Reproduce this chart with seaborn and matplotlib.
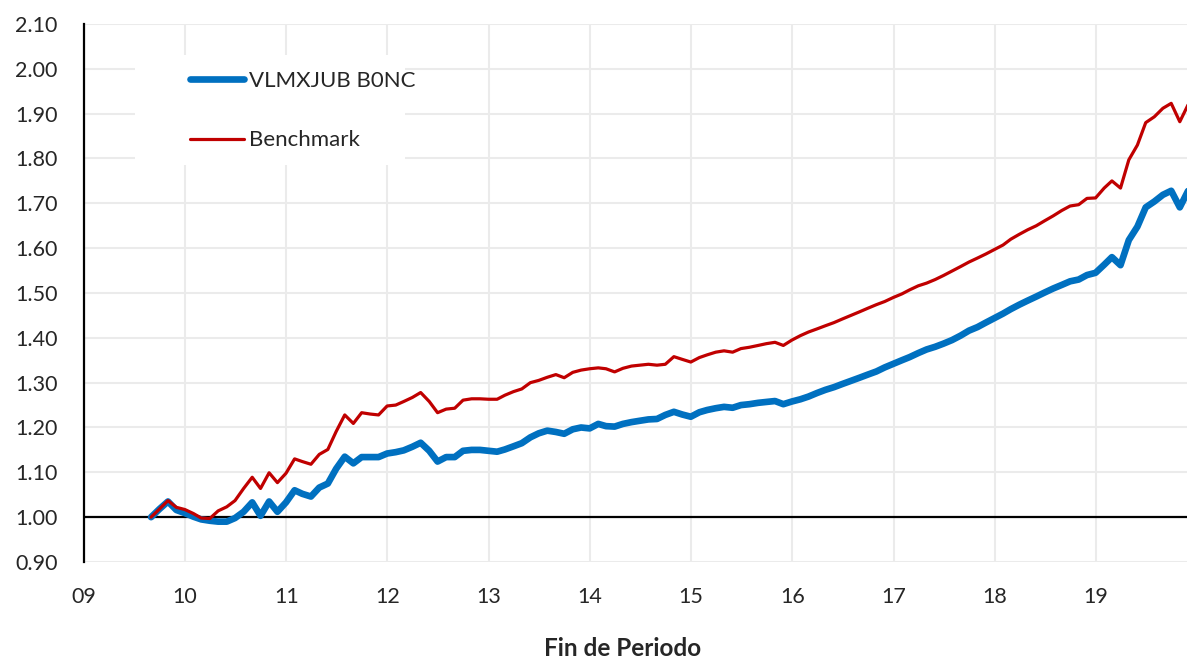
import pandas as pd
import seaborn as sns
import matplotlib.pyplot as plt
import matplotlib.dates as mdates
from matplotlib.patches import Rectangle

# valores mensuales (fin de mes)
fondo = [
    1.000, 1.018, 1.035, 1.016, 1.009, 1.001, 0.995, 0.992, 0.990, 0.990, 0.998, 1.012,
    1.033, 1.003, 1.035, 1.012, 1.033, 1.060, 1.052, 1.046, 1.066, 1.075, 1.108, 1.135,
    1.120, 1.134, 1.134, 1.134, 1.142, 1.145, 1.149, 1.157, 1.166, 1.148, 1.124, 1.134,
    1.134, 1.148, 1.150, 1.150, 1.148, 1.146, 1.151, 1.158, 1.165, 1.178, 1.187, 1.193,
    1.190, 1.186, 1.196, 1.200, 1.198, 1.208, 1.203, 1.202, 1.208, 1.212, 1.215, 1.218,
    1.219, 1.228, 1.235, 1.229, 1.224, 1.234, 1.239, 1.243, 1.246, 1.244, 1.250, 1.252,
    1.255, 1.257, 1.259, 1.252, 1.258, 1.263, 1.269, 1.277, 1.284, 1.290, 1.297, 1.304,
    1.311, 1.318, 1.325, 1.334, 1.342, 1.350, 1.357, 1.366, 1.374, 1.380, 1.387, 1.395,
    1.405, 1.416, 1.424, 1.434, 1.444, 1.454, 1.464, 1.474, 1.483, 1.492, 1.501, 1.510,
    1.518, 1.526, 1.530, 1.540, 1.545, 1.563, 1.580, 1.562, 1.618, 1.648, 1.691, 1.704,
    1.719, 1.728, 1.691, 1.728,
]
benchmark = [
    1.000, 1.018, 1.037, 1.022, 1.017, 1.008, 0.998, 0.997, 1.014, 1.023, 1.037, 1.064,
    1.089, 1.064, 1.099, 1.077, 1.098, 1.130, 1.124, 1.118, 1.140, 1.151, 1.191, 1.228,
    1.209, 1.233, 1.230, 1.228, 1.248, 1.250, 1.258, 1.267, 1.278, 1.258, 1.233, 1.241,
    1.243, 1.261, 1.264, 1.264, 1.263, 1.263, 1.272, 1.280, 1.286, 1.300, 1.305, 1.312,
    1.318, 1.311, 1.323, 1.328, 1.331, 1.333, 1.331, 1.324, 1.332, 1.337, 1.339, 1.341,
    1.339, 1.341, 1.358, 1.352, 1.346, 1.356, 1.362, 1.368, 1.371, 1.368, 1.376, 1.379,
    1.383, 1.387, 1.390, 1.383, 1.395, 1.405, 1.413, 1.420, 1.427, 1.434, 1.442, 1.450,
    1.458, 1.466, 1.474, 1.481, 1.490, 1.498, 1.507, 1.516, 1.522, 1.530, 1.539, 1.549,
    1.559, 1.569, 1.578, 1.587, 1.597, 1.607, 1.620, 1.631, 1.641, 1.650, 1.661, 1.672,
    1.684, 1.694, 1.697, 1.711, 1.712, 1.734, 1.750, 1.734, 1.797, 1.830, 1.880, 1.893,
    1.912, 1.923, 1.882, 1.920,
]
fechas = pd.date_range("2009-08-31", periods=len(fondo), freq="ME")
y_ticks = [0.90, 1.00, 1.10, 1.20, 1.30, 1.40, 1.50, 1.60, 1.70, 1.80, 1.90, 2.00, 2.10]

sns.set_style("white")
plt.rcParams["font.family"] = ["Lato", "DejaVu Sans"]

fig = plt.figure(figsize=(11.87, 6.59), dpi=100)
ax = fig.add_axes([0.0708, 0.1472, 0.9292, 0.8164])

grid = "#ebebeb"
ax.set_axisbelow(True)
ax.grid(True, color=grid, linewidth=1.5)
ax.axhline(1.0, color="black", linewidth=1.6, zorder=1.5)

sns.lineplot(x=fechas, y=fondo, ax=ax, color="#0070c0", linewidth=4.8,
             label="VLMXJUB B0NC", zorder=3)
sns.lineplot(x=fechas, y=benchmark, ax=ax, color="#c00000", linewidth=2.3,
             label="Benchmark", zorder=4)

ax.set_xlim(pd.Timestamp("2009-01-01"), pd.Timestamp("2019-11-26"))
ax.set_ylim(0.90, 2.10)
ax.set_yticks(y_ticks)
ax.set_yticklabels([f"{v:.2f}" for v in y_ticks])
ax.xaxis.set_major_locator(mdates.YearLocator())
ax.xaxis.set_major_formatter(mdates.DateFormatter("%y"))
ax.tick_params(axis="y", length=0, pad=19, labelsize=15.5)
ax.tick_params(axis="x", length=0, pad=18, labelsize=15.5)

for s in ["top", "right", "bottom"]:
    ax.spines[s].set_visible(False)
ax.spines["left"].set_color("black")
ax.spines["left"].set_linewidth(1.6)

ax.set_xlabel("Fin de Periodo", fontsize=17.5, fontweight="bold")
ax.xaxis.set_label_coords(0.4887, -0.139)
ax.set_ylabel("")

# fondo blanco del cuadro de leyenda (tapa la reticula)
ax.add_patch(Rectangle((0.0462, 0.738), 0.2448, 0.2045, transform=ax.transAxes,
                       facecolor="white", edgecolor="none", zorder=1))
leg = ax.legend(loc="upper left", bbox_to_anchor=(0.0961, 0.913), fontsize=16,
                frameon=False, handlelength=2.45, handletextpad=0.2,
                labelspacing=1.78, borderpad=0, borderaxespad=0)

fig.savefig("out.png", dpi=100)
